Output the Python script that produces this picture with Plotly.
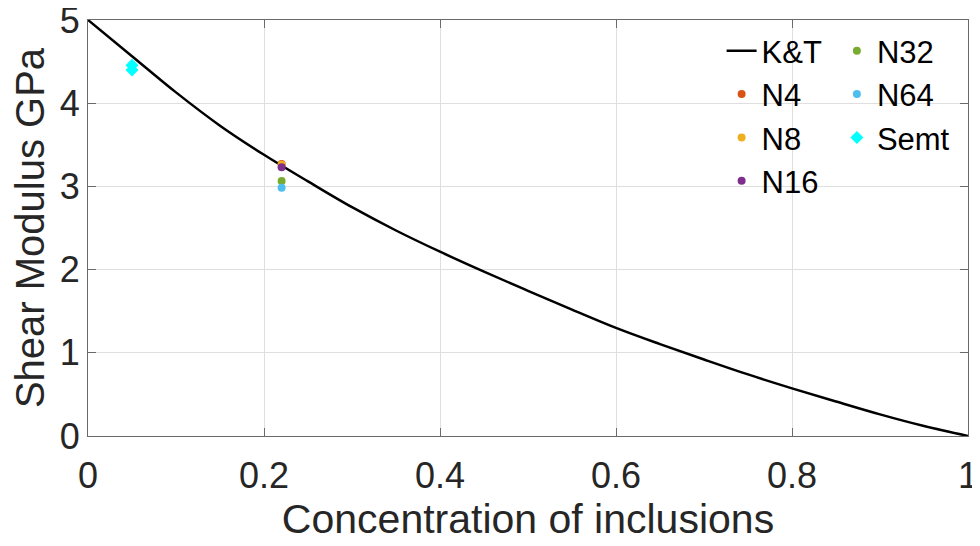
import plotly.graph_objects as go

# K&T curve
kt_conc = [0.0, 0.05, 0.10, 0.15, 0.20, 0.25, 0.30, 0.35, 0.40, 0.45, 0.50,
           0.55, 0.60, 0.65, 0.70, 0.75, 0.80, 0.85, 0.90, 0.95, 1.0]
kt_mu = [5.00, 4.565, 4.13, 3.73, 3.38, 3.06, 2.75, 2.47, 2.215, 1.975, 1.745,
         1.52, 1.30, 1.105, 0.92, 0.74, 0.573, 0.415, 0.26, 0.12, 0.0]

# simulation points
sim_conc = 0.22
n4 = 3.27
n8 = 3.26
n16 = 3.23
n32 = 3.065
n64 = 2.985

semt_conc = [0.05, 0.05]
semt_mu = [4.40, 4.455]

xticks = [0, 0.2, 0.4, 0.6, 0.8, 1]
xticklabels = ["0", "0.2", "0.4", "0.6", "0.8", "1"]
yticks = [0, 1, 2, 3, 4, 5]
yticklabels = ["0", "1", "2", "3", "4", "5"]

FONT = "Liberation Sans, Arial, Helvetica, sans-serif"

fig = go.Figure()
fig.add_trace(go.Scatter(x=kt_conc, y=kt_mu, mode="lines", name="K&T",
                         line=dict(color="black", width=2.5, shape="spline"),
                         legend="legend"))
pts = [("N4", n4, "#D95319", "legend"), ("N8", n8, "#EDB120", "legend"),
       ("N16", n16, "#7E2F8E", "legend"), ("N32", n32, "#77AC30", "legend2"),
       ("N64", n64, "#4DBEEE", "legend2")]
for name, val, col, lg in pts:
    fig.add_trace(go.Scatter(x=[sim_conc], y=[val], mode="markers", name=name,
                             marker=dict(color=col, size=8, symbol="circle"),
                             legend=lg))
fig.add_trace(go.Scatter(x=semt_conc, y=semt_mu, mode="markers", name="Semt",
                         marker=dict(color="#00FFFF", size=10, symbol="diamond"),
                         legend="legend2"))

axis_common = dict(
    showline=True, linecolor="#6a6a6a", linewidth=1, mirror="ticks",
    ticks="inside", ticklen=8, tickcolor="#6a6a6a", tickwidth=1,
    showgrid=True, gridcolor="#dfdfdf", gridwidth=1, zeroline=False,
    tickfont=dict(family=FONT, size=36, color="#262626"),
    automargin=False, ticklabeloverflow="allow",
)

fig.update_layout(
    width=980, height=546,
    margin=dict(l=80, r=20, t=12, b=118),
    plot_bgcolor="white", paper_bgcolor="white",
    font=dict(family=FONT, color="#262626"),
    xaxis=dict(range=[0, 1], tickvals=xticks, ticktext=xticklabels,
               ticklabelstandoff=8,
               title=dict(text="Concentration of inclusions",
                          font=dict(family=FONT, size=41, color="#262626"),
                          standoff=4),
               **axis_common),
    yaxis=dict(range=[0, 5], tickvals=yticks, ticktext=yticklabels,
               title=dict(text="Shear Modulus GPa",
                          font=dict(family=FONT, size=40, color="#262626"),
                          standoff=6),
               **axis_common),
    legend=dict(x=0.72, y=0.99, xanchor="left", yanchor="top",
                bgcolor="rgba(0,0,0,0)", borderwidth=0,
                font=dict(family=FONT, size=31, color="black"),
                tracegroupgap=0),
    legend2=dict(x=0.851, y=0.99, xanchor="left", yanchor="top",
                 bgcolor="rgba(0,0,0,0)", borderwidth=0,
                 font=dict(family=FONT, size=31, color="black"),
                 tracegroupgap=0),
    showlegend=True,
)

fig.write_html("out.html")
